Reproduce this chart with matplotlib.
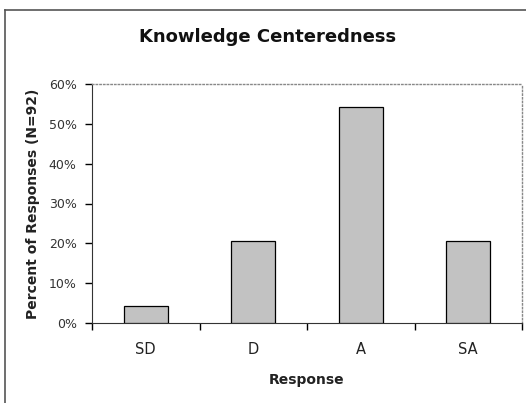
import numpy as np
import matplotlib.pyplot as plt
from matplotlib.lines import Line2D

plt.rcParams['font.family'] = ['DejaVu Sans']

# Survey responses, N=92
categories = ['SD', 'D', 'A', 'SA']
counts = [4, 19, 50, 19]
n_total = 92
percents = [100.0 * c / n_total for c in counts]

W, H = 526, 403
fig = plt.figure(figsize=(W / 100, H / 100), dpi=100)

# outer frame (only top and left edges visible in the crop)
fig.add_artist(Line2D([5 / W, 1.0], [1 - 10 / H, 1 - 10 / H], color='#555555', lw=1.2))
fig.add_artist(Line2D([5 / W, 5 / W], [0.0, 1 - 10 / H], color='#555555', lw=1.2))

ax = fig.add_axes([92 / W, 1 - 323 / H, (522 - 92) / W, (323 - 84) / H])

x = np.arange(len(categories))
ax.bar(x, percents, width=0.41, color='#c2c2c2', edgecolor='black', linewidth=0.9, zorder=3)

ax.set_xlim(-0.5, len(categories) - 0.5)
ax.set_ylim(0, 60)
ax.set_yticks(np.arange(0, 61, 10))
ax.set_yticklabels([f'{v}%' for v in range(0, 61, 10)], fontsize=9, color='#333333')
ax.tick_params(axis='y', direction='out', length=5, width=1, pad=6)

# category labels sit between boundary ticks
ax.set_xticks(np.arange(-0.5, len(categories), 1.0))
ax.set_xticklabels([])
ax.set_xticks(x, minor=True)
ax.set_xticklabels(categories, minor=True, fontsize=10.5, color='#222222')
ax.tick_params(axis='x', which='major', direction='out', length=5, width=1)
ax.tick_params(axis='x', which='minor', length=0, pad=14)

for side in ['top', 'right']:
    ax.spines[side].set_linestyle(':')
    ax.spines[side].set_color('#888888')
    ax.spines[side].set_linewidth(1)
ax.spines['left'].set_color('#333333')
ax.spines['bottom'].set_color('#333333')

ax.set_xlabel('Response', fontsize=10, fontweight='bold', labelpad=11, color='#222222')
ax.set_ylabel('Percent of Responses (N=92)', fontsize=10, fontweight='bold', labelpad=6, color='#222222')

fig.text(268 / W, 1 - 37 / H, 'Knowledge Centeredness', ha='center', va='center',
         fontsize=13, fontweight='bold', color='#111111')

fig.savefig('out.png', dpi=100)
